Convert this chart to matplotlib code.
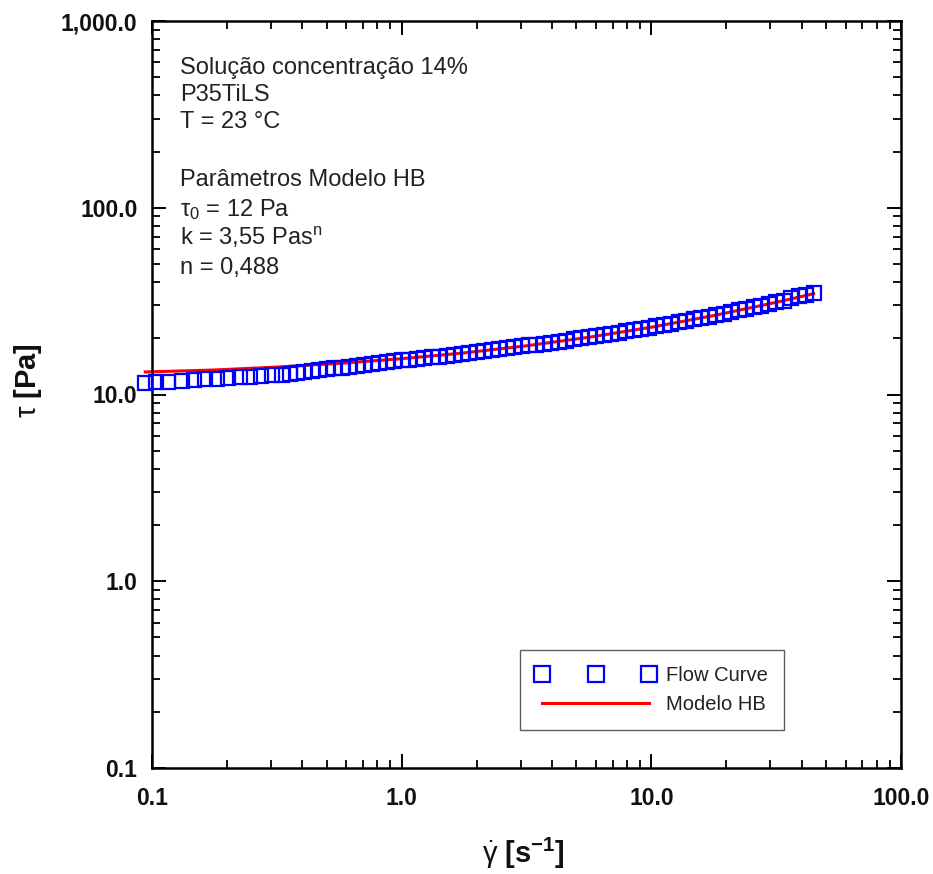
import matplotlib
matplotlib.use("Agg")
import matplotlib.pyplot as plt
from matplotlib.ticker import FixedLocator, FixedFormatter, LogLocator, NullFormatter

plt.rcParams['font.family'] = ['Liberation Sans', 'DejaVu Sans']
plt.rcParams['mathtext.fontset'] = 'custom'
plt.rcParams['mathtext.rm'] = 'Liberation Sans'
plt.rcParams['mathtext.it'] = 'Liberation Sans:italic'
plt.rcParams['mathtext.bf'] = 'Liberation Sans:bold'

# ---- data ----
shear_rate = [0.094, 0.104, 0.116, 0.132, 0.147, 0.163, 0.182, 0.202, 0.225, 0.246,
              0.273, 0.302, 0.331, 0.356,
              0.380, 0.407, 0.437, 0.468, 0.501, 0.537, 0.575, 0.617, 0.661, 0.708,
              0.759, 0.813, 0.871, 0.933, 1.000, 1.072, 1.148, 1.230, 1.318, 1.413,
              1.514, 1.622, 1.738, 1.862, 1.995, 2.138, 2.291, 2.455, 2.630, 2.818,
              3.020, 3.236, 3.467, 3.715, 3.981, 4.266, 4.571, 4.898, 5.248, 5.623,
              6.026, 6.457, 6.918, 7.413, 7.943, 8.511, 9.120, 9.772, 10.47, 11.22,
              12.02, 12.88, 13.80, 14.79, 15.85, 16.98, 18.20, 19.50, 20.89, 22.39,
              23.99, 25.70, 27.54, 29.51, 31.62, 33.88, 36.31, 38.90, 41.69, 44.67]
shear_stress = [11.51, 11.60, 11.71, 11.84, 11.94, 12.04, 12.15, 12.26, 12.37, 12.46,
                12.56, 12.67, 12.76, 12.91,
                13.05, 13.19, 13.34, 13.48, 13.63, 13.78, 13.93, 14.09, 14.24, 14.40,
                14.55, 14.71, 14.88, 15.04, 15.21, 15.35, 15.50, 15.65, 15.80, 15.96,
                16.12, 16.30, 16.48, 16.66, 16.85, 17.04, 17.24, 17.44, 17.65, 17.89,
                18.09, 18.30, 18.51, 18.74, 18.97, 19.21, 19.45, 19.71, 19.97, 20.25,
                20.53, 20.82, 21.12, 21.44, 21.76, 22.09, 22.44, 22.80, 23.17, 23.55,
                23.95, 24.36, 24.78, 25.22, 25.67, 26.14, 26.63, 27.13, 27.65, 28.18,
                28.74, 29.31, 29.90, 30.52, 31.15, 31.81, 32.70, 33.50, 34.30, 35.10]

model_rate = [0.094, 0.178, 0.316, 0.562, 1.000, 1.778, 3.162, 5.623, 10.00, 17.78,
              31.62, 44.67]
model_stress = [13.20, 13.53, 14.02, 14.68, 15.55, 16.70, 18.23, 20.25, 22.92, 26.46,
                31.15, 34.67]

x_ticks = [0.1, 1.0, 10.0, 100.0]
x_tick_labels = ["0.1", "1.0", "10.0", "100.0"]
y_ticks = [0.1, 1.0, 10.0, 100.0, 1000.0]
y_tick_labels = ["0.1", "1.0", "10.0", "100.0", "1,000.0"]

info_lines = ["Solução concentração 14%", "P35TiLS", "T = 23 °C",
              "Parâmetros Modelo HB", r"$\mathrm{\tau_0}$ = 12 Pa",
              r"k = 3,55 Pas$^\mathrm{n}$", "n = 0,488"]

# ---- figure ----
W, H = 933, 874
fig = plt.figure(figsize=(W / 100, H / 100), dpi=100)
L, R, T, B = 152, 901, 21, 768
ax = fig.add_axes([L / W, 1 - B / H, (R - L) / W, (B - T) / H])

ax.plot(model_rate, model_stress, color='#ff0000', lw=2.2, zorder=2,
        label='Modelo HB', clip_on=False)
ax.plot(shear_rate, shear_stress, ls='none', marker='s', ms=9.5,
        mfc='none', mec='#0000ff', mew=1.6, zorder=3, label='Flow Curve',
        clip_on=False)

ax.set_xscale('log')
ax.set_yscale('log')
ax.set_xlim(0.1, 100)
ax.set_ylim(0.1, 1000)

ax.xaxis.set_major_locator(FixedLocator(x_ticks))
ax.xaxis.set_major_formatter(FixedFormatter(x_tick_labels))
ax.yaxis.set_major_locator(FixedLocator(y_ticks))
ax.yaxis.set_major_formatter(FixedFormatter(y_tick_labels))
ax.xaxis.set_minor_locator(LogLocator(base=10, subs=range(2, 10), numticks=20))
ax.yaxis.set_minor_locator(LogLocator(base=10, subs=range(2, 10), numticks=20))
ax.xaxis.set_minor_formatter(NullFormatter())
ax.yaxis.set_minor_formatter(NullFormatter())

ax.tick_params(which='both', direction='in', top=True, right=True, color='black')
ax.tick_params(which='major', length=10, width=1.4)
ax.tick_params(which='minor', length=5.5, width=1.3)
ax.tick_params(axis='x', which='major', pad=14)
ax.tick_params(axis='y', which='major', pad=10.5)
for lab in ax.get_xticklabels() + ax.get_yticklabels():
    lab.set_fontsize(16.5)
    lab.set_fontweight('bold')
    lab.set_color('#111111')

for sp in ax.spines.values():
    sp.set_linewidth(1.8)
    sp.set_color('black')

# axis labels
fig.text(28 / W, 1 - 381 / H, r"$\mathrm{\tau}$ [Pa]", rotation=90, ha='center',
         va='center', fontsize=21, fontweight='bold', color='#111111')
fig.text(523 / W, 1 - 863 / H, r"$\mathrm{\dot{\gamma}}$ $\mathbf{[s^{-1}]}$",
         ha='center', va='baseline', fontsize=21, color='#111111')

# info text
baselines = [74, 101, 128, 186, 216, 245, 274]
for txt, yb in zip(info_lines, baselines):
    ax.text((180 - L) / (R - L), (B - yb) / (B - T), txt, transform=ax.transAxes,
            ha='left', va='baseline', fontsize=17, color='#222222')

# legend
handles, labels = ax.get_legend_handles_labels()
leg = ax.legend(handles[::-1], labels[::-1], loc='lower right',
                bbox_to_anchor=((784 - L) / (R - L), (B - 730) / (B - T)),
                borderaxespad=0, numpoints=3, handlelength=5.9,
                handletextpad=0.55, labelspacing=0.5, fontsize=14.5,
                fancybox=False, frameon=True, borderpad=0.8, markerscale=1.15)
leg.get_frame().set_edgecolor('#333333')
leg.get_frame().set_linewidth(1.0)
for t in leg.get_texts():
    t.set_color('#222222')

fig.savefig('out.png', dpi=100)
